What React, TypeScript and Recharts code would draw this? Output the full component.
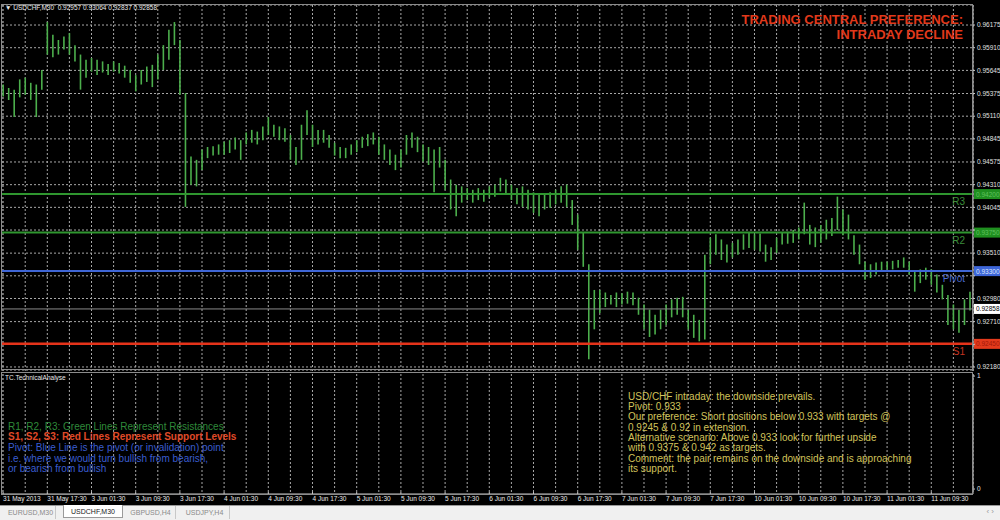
import React from "react";
import {
  Bar,
  CartesianGrid,
  ComposedChart,
  ReferenceLine,
  XAxis,
  YAxis,
} from "recharts";

// USDCHF M30 — each entry covers two M30 bars, price in pips (×10 000)
const HIGHS = [
  9548, 9544, 9542, 9554, 9556, 9550, 9548, 9565,
  9621, 9606, 9600, 9604, 9608, 9594, 9583, 9577,
  9579, 9577, 9575, 9572, 9575, 9573, 9570, 9565,
  9559, 9565, 9569, 9571, 9583, 9594, 9612, 9621,
  9600, 9538, 9464, 9460, 9472, 9475, 9476, 9478,
  9481, 9483, 9486, 9483, 9492, 9495, 9493, 9499,
  9510, 9501, 9499, 9497, 9489, 9475, 9501, 9518,
  9501, 9495, 9495, 9489, 9480, 9475, 9474, 9478,
  9483, 9487, 9490, 9492, 9487, 9478, 9472, 9466,
  9472, 9489, 9492, 9487, 9478, 9475, 9472, 9475,
  9460, 9437, 9431, 9429, 9427, 9425, 9427, 9425,
  9429, 9431, 9439, 9437, 9431, 9427, 9429, 9425,
  9422, 9419, 9419, 9422, 9425, 9429, 9431, 9413,
  9396, 9375, 9338, 9308, 9308, 9305, 9302, 9305,
  9304, 9306, 9305, 9299, 9291, 9285, 9279, 9285,
  9291, 9297, 9299, 9300, 9285, 9279, 9273, 9349,
  9369, 9373, 9367, 9361, 9363, 9367, 9373, 9375,
  9373, 9374, 9361, 9358, 9369, 9375, 9376, 9378,
  9381, 9410, 9384, 9381, 9384, 9390, 9392, 9417,
  9402, 9396, 9372, 9361, 9341, 9338, 9340, 9341,
  9341, 9342, 9343, 9346, 9341, 9329, 9332, 9334,
  9332, 9326, 9314, 9302, 9291, 9285, 9297, 9306,
];
const LOWS = [
  9534, 9530, 9510, 9533, 9536, 9530, 9510, 9542,
  9583, 9580, 9583, 9589, 9583, 9575, 9542, 9556,
  9563, 9559, 9562, 9559, 9563, 9561, 9556, 9550,
  9540, 9548, 9551, 9545, 9554, 9565, 9577, 9594,
  9536, 9405, 9431, 9429, 9448, 9462, 9465, 9466,
  9466, 9468, 9472, 9460, 9478, 9480, 9478, 9483,
  9489, 9487, 9483, 9481, 9460, 9454, 9460, 9489,
  9475, 9478, 9480, 9474, 9465, 9462, 9462, 9466,
  9469, 9474, 9476, 9478, 9466, 9460, 9454, 9448,
  9451, 9466, 9474, 9469, 9458, 9454, 9422, 9451,
  9425, 9402, 9394, 9410, 9413, 9410, 9413, 9411,
  9416, 9417, 9423, 9419, 9413, 9408, 9405, 9402,
  9398, 9394, 9402, 9404, 9408, 9410, 9405, 9384,
  9355, 9335, 9227, 9262, 9281, 9288, 9291, 9288,
  9291, 9292, 9290, 9279, 9262, 9253, 9256, 9262,
  9267, 9276, 9279, 9276, 9262, 9252, 9248, 9250,
  9338, 9349, 9343, 9340, 9346, 9349, 9355, 9357,
  9355, 9353, 9341, 9343, 9351, 9361, 9362, 9363,
  9367, 9373, 9361, 9358, 9363, 9367, 9371, 9378,
  9372, 9367, 9349, 9338, 9320, 9322, 9326, 9329,
  9332, 9332, 9334, 9334, 9326, 9306, 9316, 9320,
  9314, 9305, 9297, 9267, 9262, 9258, 9267, 9284,
];

const PRICE_TICKS = [
  0.9218, 0.92445, 0.9271, 0.9298, 0.93245, 0.9351, 0.9378, 0.94045,
  0.9431, 0.94575, 0.94845, 0.9511, 0.95375, 0.95645, 0.9591, 0.96175,
];

const TIME_LABELS = [
  "31 May 2013", "31 May 17:30", "3 Jun 01:30", "3 Jun 09:30", "3 Jun 17:30",
  "4 Jun 01:30", "4 Jun 09:30", "4 Jun 17:30", "5 Jun 01:30", "5 Jun 09:30",
  "5 Jun 17:30", "6 Jun 01:30", "6 Jun 09:30", "6 Jun 17:30", "7 Jun 01:30",
  "7 Jun 09:30", "7 Jun 17:30", "10 Jun 01:30", "10 Jun 09:30", "10 Jun 17:30",
  "11 Jun 01:30", "11 Jun 09:30",
];

const LEVEL_NAMES = ["R3", "R2", "Pivot", "S1"];
const LEVEL_PRICES = [0.942, 0.9375, 0.933, 0.9245];
const LAST_OHLC = [0.92957, 0.93064, 0.92837, 0.92858];

const LEGEND_LINES = [
  "R1, R2, R3: Green Lines Represent Resistances",
  "S1, S2, S3: Red Lines Represent Support Levels",
  "Pivot: Blue Line is the pivot (or invalidation) point",
  "i.e. where we would turn bullish from bearish,",
  "or bearish from bullish",
];
const COMMENT_LINES = [
  "USD/CHF intraday: the downside prevails.",
  "Pivot: 0.933",
  "Our preference: Short positions below 0.933 with targets @",
  "0.9245 & 0.92 in extension.",
  "Alternative scenario: Above 0.933 look for further upside",
  "with 0.9375 & 0.942 as targets.",
  "Comment: the pair remains on the downside and is approaching",
  "its support.",
];
const TABS = ["EURUSD,M30", "USDCHF,M30", "GBPUSD,H4", "USDJPY,H4"];

const BARS_PER_POINT = 2;
const BARS_PER_LABEL = 16;
const BARS_PER_GRID = 8;
const X_DOMAIN: [number, number] = [-0.4, 351.1];
const Y_DOMAIN: [number, number] = [0.92133, 0.96409];

const LEVEL_STYLE: Record<string, { line: string; text: string; box: string; boxText: string; width: number }> = {
  R3: { line: "#2f962f", text: "#3b8f3b", box: "#1f8f1f", boxText: "#5fc15f", width: 2 },
  R2: { line: "#2f962f", text: "#3b8f3b", box: "#1f8f1f", boxText: "#5fc15f", width: 2 },
  Pivot: { line: "#3f66d6", text: "#4a6bd0", box: "#3d66d8", boxText: "#dfe6ff", width: 2 },
  S1: { line: "#e5331a", text: "#c43320", box: "#e33a1c", boxText: "#a01808", width: 2.5 },
};

const BAR_GREEN = "#4caf4c";
const GRID = "#a8a8a8";
const AXIS = "#c8c8c8";
const SMALL = 6.5;

const data = HIGHS.map((h, i) => ({
  bar: i * BARS_PER_POINT,
  range: [LOWS[i] / 10000, h / 10000],
}));

const gridTicks: number[] = [];
for (let b = 0; b <= X_DOMAIN[1]; b += BARS_PER_GRID) gridTicks.push(b);

// price labels that sit under a level tag on the axis are left blank
const allTags = [...LEVEL_PRICES, LAST_OHLC[3]];
const priceLabel = (v: number) =>
  allTags.some((p) => Math.abs(p - v) < 0.0006) ? "" : v.toFixed(5);

function LevelTag(props: any) {
  const { viewBox, name, price, style } = props;
  if (!viewBox) return null;
  const right = viewBox.x + viewBox.width;
  const y = viewBox.y;
  return (
    <g>
      {name && (
        <text x={right - 8} y={y + 11} textAnchor="end" fill={style.text} fontSize={10}>
          {name}
        </text>
      )}
      <rect x={right + 1} y={y - 5} width={27} height={10} fill={style.box} />
      <text x={right + 3} y={y + 2.5} fill={style.boxText} fontSize={SMALL}>
        {price.toFixed(5)}
      </text>
    </g>
  );
}

function TimeTick(props: any) {
  const { x, y, payload } = props;
  const v = payload?.value ?? 0;
  if (v % BARS_PER_LABEL !== 0) return <g />;
  return (
    <g>
      <line x1={x} x2={x} y1={y - 4} y2={y - 1} stroke={AXIS} />
      <text x={x} y={y + 5} fill="#e8e8e8" fontSize={SMALL}>
        {TIME_LABELS[v / BARS_PER_LABEL]}
      </text>
    </g>
  );
}

export default function App() {
  const lineText = {
    position: "absolute" as const,
    fontSize: 10,
    lineHeight: "10.6px",
    whiteSpace: "pre" as const,
  };
  return (
    <div
      style={{
        position: "fixed",
        left: 0,
        top: 0,
        width: 1000,
        height: 520,
        background: "#000",
        overflow: "hidden",
        fontFamily: '"Liberation Sans", Arial, sans-serif',
      }}
    >
      {/* price panel */}
      <div style={{ position: "absolute", left: 0, top: 0 }}>
        <ComposedChart width={1000} height={371} data={data} margin={{ top: 5, right: 0, bottom: 0, left: 2 }}>
          <CartesianGrid stroke={GRID} strokeDasharray="2 2" />
          <XAxis
            dataKey="bar"
            type="number"
            domain={X_DOMAIN}
            ticks={gridTicks}
            interval={0}
            allowDataOverflow
            height={0}
            tick={() => <g />}
            tickLine={false}
            axisLine={false}
          />
          <YAxis
            orientation="right"
            width={27}
            domain={Y_DOMAIN}
            ticks={PRICE_TICKS}
            interval={0}
            allowDataOverflow
            tickFormatter={priceLabel}
            tick={{ fill: "#e0e0e0", fontSize: SMALL }}
            tickSize={2}
            tickMargin={2}
            axisLine={{ stroke: AXIS }}
            tickLine={{ stroke: AXIS }}
          />
          <Bar dataKey="range" barSize={1.6} fill={BAR_GREEN} isAnimationActive={false} />
          <ReferenceLine
            y={LAST_OHLC[3]}
            stroke="#8a8a8a"
            label={<LevelTag price={LAST_OHLC[3]} style={{ text: "#fff", box: "#ffffff", boxText: "#000" }} />}
          />
          {LEVEL_NAMES.map((name, i) => (
            <ReferenceLine
              key={name}
              y={LEVEL_PRICES[i]}
              stroke={LEVEL_STYLE[name].line}
              strokeWidth={LEVEL_STYLE[name].width}
              label={<LevelTag name={name} price={LEVEL_PRICES[i]} style={LEVEL_STYLE[name]} />}
            />
          ))}
        </ComposedChart>
      </div>

      {/* indicator panel with time axis */}
      <div style={{ position: "absolute", left: 0, top: 371 }}>
        <ComposedChart width={1000} height={134} data={data} margin={{ top: 3, right: 0, bottom: 0, left: 2 }}>
          <CartesianGrid stroke={GRID} strokeDasharray="2 2" horizontal={false} />
          <XAxis
            dataKey="bar"
            type="number"
            domain={X_DOMAIN}
            ticks={gridTicks}
            interval={0}
            allowDataOverflow
            height={11}
            tickSize={2}
            tickMargin={0}
            tickLine={false}
            axisLine={{ stroke: AXIS }}
            tick={(p: any) => <TimeTick {...p} />}
          />
          <YAxis
            orientation="right"
            width={27}
            domain={[-0.044, 1.018]}
            ticks={[0, 1]}
            allowDataOverflow
            tick={{ fill: "#e0e0e0", fontSize: SMALL }}
            tickSize={2}
            tickMargin={2}
            axisLine={{ stroke: AXIS }}
            tickLine={{ stroke: AXIS }}
          />
        </ComposedChart>
      </div>

      {/* panel frames */}
      <div style={{ position: "absolute", left: 1, top: 4, width: 972, height: 366, border: "1px solid #8c8c8c", boxSizing: "border-box" }} />
      <div style={{ position: "absolute", left: 1, top: 372, width: 972, height: 123, border: "1px solid #8c8c8c", boxSizing: "border-box" }} />

      <div style={{ position: "absolute", left: 5, top: 4, color: "#e8e8e8", fontSize: SMALL, whiteSpace: "pre" }}>
        {"\u25BC USDCHF,M30  " + LAST_OHLC.map((v) => v.toFixed(5)).join(" ")}
      </div>
      <div
        style={{
          position: "absolute",
          right: 37,
          top: 12,
          color: "#e2391b",
          fontSize: 13,
          fontWeight: "bold",
          lineHeight: "15px",
          textAlign: "right",
        }}
      >
        TRADING CENTRAL PREFERENCE:
        <br />
        INTRADAY DECLINE
      </div>

      <div style={{ position: "absolute", left: 5, top: 374, color: "#e8e8e8", fontSize: SMALL }}>
        TC.TechnicalAnalyse
      </div>
      {LEGEND_LINES.map((t, i) => (
        <div
          key={t}
          style={{
            ...lineText,
            left: 8,
            top: 421.7 + i * 10.6,
            color: i === 0 ? "#2f8a3a" : i === 1 ? "#e04a28" : "#3a5dd0",
            fontWeight: i === 1 ? "bold" : "normal",
          }}
        >
          {t}
        </div>
      ))}
      {COMMENT_LINES.map((t, i) => (
        <div key={t} style={{ ...lineText, left: 628, top: 391.8 + i * 10.3, color: "#d2c35a" }}>
          {t}
        </div>
      ))}

      {/* symbol tabs */}
      <div
        style={{
          position: "absolute",
          left: 0,
          top: 505,
          width: 1000,
          height: 15,
          background: "#f0f0f0",
          borderTop: "1px solid #9a9a9a",
          boxSizing: "border-box",
        }}
      >
        {TABS.map((t, i) => {
          const lefts = [6, 63, 126, 180];
          const active = i === 1;
          return (
            <div
              key={t}
              style={{
                position: "absolute",
                left: lefts[i],
                top: active ? -1 : 0,
                width: active ? 60 : 50,
                height: 13,
                lineHeight: "13px",
                textAlign: "center",
                fontSize: 7,
                color: active ? "#222" : "#8a8a8a",
                background: active ? "#fff" : "transparent",
                border: active ? "1px solid #9a9a9a" : "none",
                borderTop: "none",
                borderRight: active ? "1px solid #9a9a9a" : "1px solid #c8c8c8",
                boxSizing: "border-box",
              }}
            >
              {t}
            </div>
          );
        })}
        <div style={{ position: "absolute", right: 6, top: 1, fontSize: 8, color: "#9a9a9a" }}>{"\u2039  \u203A"}</div>
      </div>
    </div>
  );
}
